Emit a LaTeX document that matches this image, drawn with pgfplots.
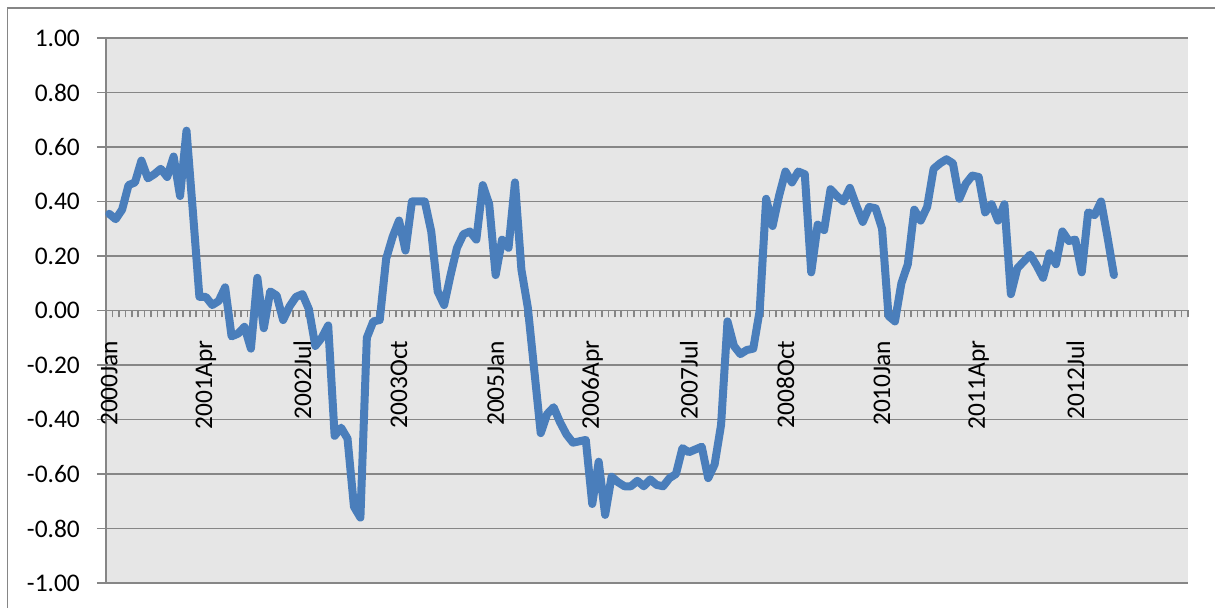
\documentclass[border=0pt]{standalone}
\usepackage{pgfplots}
\pgfplotsset{compat=1.18}
\usepackage{pgfplotstable}
\usepackage{fontspec}
\setmainfont{Carlito}
\definecolor{bggray}{RGB}{230,230,230}
\definecolor{gridgray}{RGB}{134,134,134}
\definecolor{lineblue}{RGB}{74,126,187}
\pgfplotstableread{
i v
0 0.355
1 0.335
2 0.37
3 0.46
4 0.47
5 0.55
6 0.485
7 0.50
8 0.52
9 0.49
10 0.565
11 0.42
12 0.66
13 0.36
14 0.05
15 0.05
16 0.02
17 0.035
18 0.085
19 -0.095
20 -0.085
21 -0.06
22 -0.14
23 0.12
24 -0.065
25 0.07
26 0.055
27 -0.035
28 0.015
29 0.05
30 0.06
31 0.005
32 -0.13
33 -0.10
34 -0.055
35 -0.46
36 -0.43
37 -0.47
38 -0.72
39 -0.76
40 -0.10
41 -0.04
42 -0.035
43 0.19
44 0.27
45 0.33
46 0.22
47 0.40
48 0.40
49 0.40
50 0.29
51 0.07
52 0.02
53 0.13
54 0.23
55 0.28
56 0.29
57 0.26
58 0.46
59 0.39
60 0.13
61 0.26
62 0.23
63 0.47
64 0.15
65 0.01
66 -0.22
67 -0.45
68 -0.38
69 -0.355
70 -0.41
71 -0.455
72 -0.485
73 -0.48
74 -0.475
75 -0.71
76 -0.555
77 -0.75
78 -0.61
79 -0.63
80 -0.645
81 -0.645
82 -0.625
83 -0.645
84 -0.62
85 -0.64
86 -0.645
87 -0.615
88 -0.60
89 -0.505
90 -0.52
91 -0.51
92 -0.50
93 -0.615
94 -0.565
95 -0.42
96 -0.04
97 -0.13
98 -0.16
99 -0.145
100 -0.14
101 0.00
102 0.41
103 0.31
104 0.42
105 0.51
106 0.47
107 0.51
108 0.50
109 0.14
110 0.315
111 0.295
112 0.445
113 0.42
114 0.40
115 0.45
116 0.385
117 0.325
118 0.38
119 0.375
120 0.30
121 -0.02
122 -0.04
123 0.10
124 0.17
125 0.37
126 0.33
127 0.38
128 0.52
129 0.54
130 0.555
131 0.54
132 0.41
133 0.465
134 0.495
135 0.49
136 0.36
137 0.39
138 0.33
139 0.39
140 0.06
141 0.155
142 0.18
143 0.205
144 0.165
145 0.12
146 0.21
147 0.17
148 0.29
149 0.255
150 0.26
151 0.14
152 0.36
153 0.35
154 0.40
155 0.27
156 0.13
}\datatable
\begin{document}
\begin{tikzpicture}
\useasboundingbox (0,0) rectangle (1215bp,608bp);
\draw[gridgray, line width=1.5bp] (7.5bp,-2bp) -- (7.5bp,600bp) -- (1217bp,600bp);
\begin{axis}[
  at={(106bp,25bp)}, anchor=south west,
  scale only axis, width=1082bp, height=545bp,
  xmin=-0.5, xmax=167.5, ymin=-1, ymax=1,
  axis background/.style={fill=bggray},
  axis x line*=middle, axis y line*=left,
  axis line style={gridgray, line width=1.5bp},
  ymajorgrids=true,
  grid style={gridgray, line width=1.5bp},
  ytick={-1,-0.8,-0.6,-0.4,-0.2,0,0.2,0.4,0.6,0.8,1},
  yticklabels={-1.00,-0.80,-0.60,-0.40,-0.20,0.00,0.20,0.40,0.60,0.80,1.00},
  xtick={0,15,...,150},
  xticklabels={2000Jan,2001Apr,2002Jul,2003Oct,2005Jan,2006Apr,2007Jul,2008Oct,2010Jan,2011Apr,2012Jul},
  minor xtick={-0.5,0.5,...,167.5},
  major x tick style={draw=none},
  minor x tick style={gridgray, line width=1.6bp},
  y tick style={gridgray, line width=1.5bp},
  tick align=outside,
  minor tick length=7bp,
  major tick length=9bp,
  tick label style={font=\fontsize{25.5}{28}\selectfont, text=black},
  xticklabel style={rotate=90, anchor=east, inner sep=0pt},
  xticklabel shift=21bp,
  yticklabel style={anchor=east, inner sep=0pt},
  yticklabel shift=17bp,
  clip=false,
]
\addplot[lineblue, line width=8bp, line join=round, line cap=round] table[x=i, y=v] {\datatable};
\end{axis}
\end{tikzpicture}
\end{document}
